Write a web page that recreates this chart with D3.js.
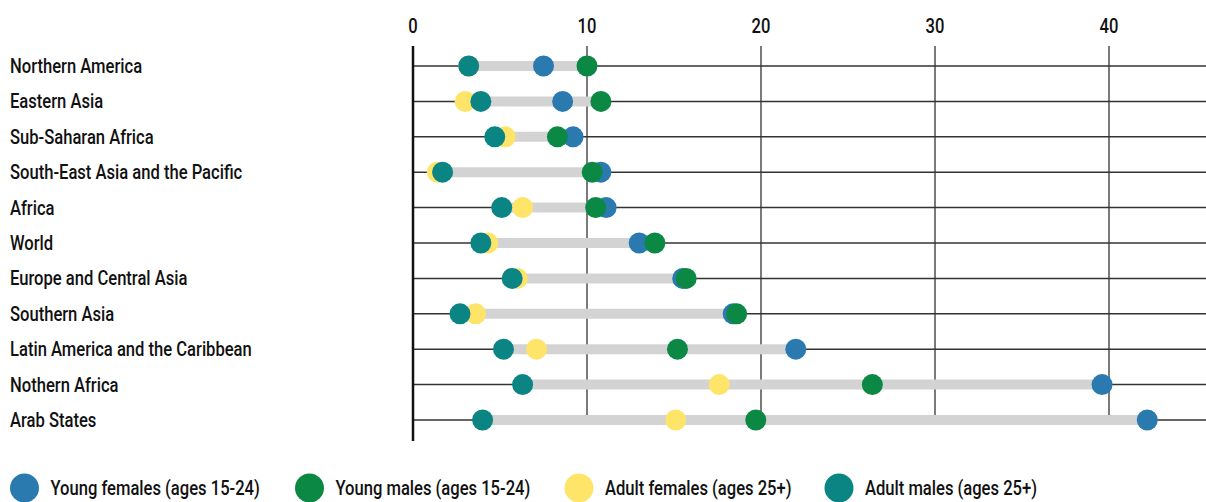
<!DOCTYPE html>
<html>
<head>
<meta charset="utf-8">
<script src="https://cdn.jsdelivr.net/npm/d3@7"></script>
<style>
  body { margin: 0; background: #fff; }
  svg { display: block; font-family: Roboto, "Noto Sans", sans-serif; font-weight: 500; }
</style>
</head>
<body>
<script>
var width = 1206, height = 502;

// regions, top to bottom
var regions = ["Northern America", "Eastern Asia", "Sub-Saharan Africa", "South-East Asia and the Pacific",
  "Africa", "World", "Europe and Central Asia", "Southern Asia", "Latin America and the Caribbean",
  "Nothern Africa", "Arab States"];

// values per series, same order as regions
var youngFemales = [7.5, 8.6, 9.2, 10.8, 11.1, 13.0, 15.5, 18.4, 22.0, 39.6, 42.2];
var youngMales   = [10.0, 10.8, 8.3, 10.3, 10.5, 13.9, 15.7, 18.6, 15.2, 26.4, 19.7];
var adultFemales = [3.2, 3.0, 5.3, 1.4, 6.3, 4.3, 6.0, 3.6, 7.1, 17.6, 15.1];
var adultMales   = [3.2, 3.9, 4.7, 1.7, 5.1, 3.9, 5.7, 2.7, 5.2, 6.3, 4.0];

var seriesNames = ["Young females (ages 15-24)", "Young males (ages 15-24)", "Adult females (ages 25+)", "Adult males (ages 25+)"];
var seriesColors = ["#2a7ab0", "#0b8843", "#fee468", "#0b8484"];
var xTicks = [0, 10, 20, 30, 40];

var series = [youngFemales, youngMales, adultFemales, adultMales];
// drawing order: yellow under teal, blue under green
var drawOrder = [0, 2, 1, 3];

var x = d3.scaleLinear().domain([0, 40]).range([413, 1109]);
var y = d3.scalePoint().domain(regions).range([66, 420]);
var plotTop = 46, plotBottom = 441, gridBottom = 415;
var squeeze = 0.79; // no condensed font installed, so narrow the text by hand
var fontSize = 21;

var svg = d3.select("body").append("svg")
    .attr("width", width)
    .attr("height", height);

function label(sel, xf, yf) {
  return sel
    .attr("transform", (d, i) => `translate(${xf(d, i)},${yf(d, i)}) scale(${squeeze},1)`)
    .attr("font-size", fontSize)
    .attr("fill", "#111");
}

// vertical grid lines
svg.append("g")
  .selectAll("line")
  .data(xTicks.filter(d => d > 0))
  .join("line")
    .attr("x1", d => x(d)).attr("x2", d => x(d))
    .attr("y1", plotTop).attr("y2", gridBottom)
    .attr("stroke", "#222")
    .attr("stroke-width", 1.2);

// tick labels
svg.append("g")
  .selectAll("text")
  .data(xTicks)
  .join("text")
    .call(label, d => x(d), () => 33)
    .attr("text-anchor", "middle")
    .text(d => d);

// row lines
svg.append("g")
  .selectAll("line")
  .data(regions)
  .join("line")
    .attr("x1", x(0)).attr("x2", width)
    .attr("y1", d => y(d)).attr("y2", d => y(d))
    .attr("stroke", "#333")
    .attr("stroke-width", 1.5);

// axis line
svg.append("line")
    .attr("x1", x(0)).attr("x2", x(0))
    .attr("y1", plotTop).attr("y2", plotBottom)
    .attr("stroke", "#111")
    .attr("stroke-width", 2.5);

// range bars
svg.append("g")
  .selectAll("line")
  .data(regions)
  .join("line")
    .attr("x1", (d, i) => x(d3.min(series, s => s[i])))
    .attr("x2", (d, i) => x(d3.max(series, s => s[i])))
    .attr("y1", d => y(d)).attr("y2", d => y(d))
    .attr("stroke", "#d3d3d3")
    .attr("stroke-width", 10);

// dots
drawOrder.forEach(k => {
  svg.append("g")
      .attr("fill", seriesColors[k])
    .selectAll("circle")
    .data(series[k])
    .join("circle")
      .attr("cx", d => x(d))
      .attr("cy", (d, i) => y(regions[i]))
      .attr("r", 10.5);
});

// region labels
svg.append("g")
  .selectAll("text")
  .data(regions)
  .join("text")
    .call(label, () => 10, d => y(d) + 7)
    .text(d => d);

// legend
var legendX = [24.5, 309.5, 579, 839];
var legend = svg.append("g")
  .selectAll("g")
  .data(seriesNames)
  .join("g")
    .attr("transform", (d, i) => `translate(${legendX[i]},488)`);

legend.append("circle")
    .attr("r", 14.5)
    .attr("fill", (d, i) => seriesColors[i]);

legend.append("text")
    .call(label, () => 26, () => 7)
    .text(d => d);
</script>
</body>
</html>
